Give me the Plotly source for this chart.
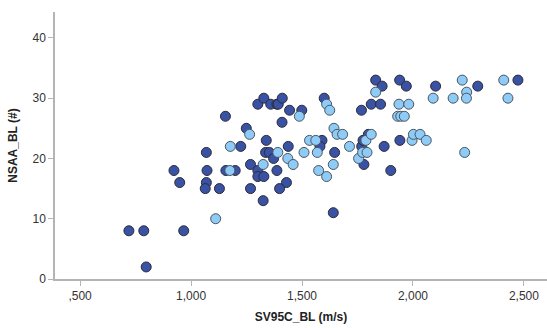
import plotly.graph_objects as go

# Dark group
dark_x = [720, 787, 967, 798, 923, 949, 1069, 1072, 1069, 1064, 1128, 1155, 1157, 1199,
          1224, 1249, 1268, 1268, 1301, 1328, 1359, 1387, 1393, 1411, 1444, 1499, 1410,
          1339, 1336, 1353, 1372, 1301, 1301, 1328, 1387, 1438, 1430, 1399, 1325, 1600,
          1590, 1581, 1647, 1641, 1768, 1769, 1780, 1775, 1779, 1799, 1812, 1832, 1861,
          1854, 1870, 1900, 1940, 1970, 1941, 2102, 2292, 2473]
dark_y = [8, 8, 8, 2, 18, 16, 21, 18, 16, 15, 15, 27, 18, 18,
          22, 25, 19, 15, 29, 30, 29, 29, 29, 30, 28, 28, 26,
          23, 21, 21, 20, 18, 17, 17, 18, 22, 16, 15, 13, 30,
          23, 22, 21, 11, 28, 22, 23, 23, 19, 24, 29, 33, 32,
          29, 22, 18, 33, 32, 23, 32, 32, 33]

# Light group
light_x = [1111, 1177, 1175, 1264, 1325, 1391, 1436, 1460, 1488, 1509, 1534, 1562, 1569,
           1575, 1611, 1625, 1611, 1641, 1644, 1658, 1683, 1714, 1755, 1773, 1793, 1788,
           1812, 1832, 1931, 1945, 1961, 1937, 1981, 1996, 2002, 2032, 2060, 2091, 2181,
           2222, 2242, 2241, 2233, 2409, 2428]
light_y = [10, 22, 18, 24, 19, 21, 20, 19, 27, 21, 23, 23, 21,
           18, 29, 28, 17, 19, 25, 24, 24, 22, 20, 21, 21, 23,
           24, 31, 27, 27, 27, 29, 29, 23, 24, 24, 23, 30, 30,
           33, 31, 30, 21, 33, 30]

x_tickvals = [500, 1000, 1500, 2000, 2500]
x_ticktext = [",500", "1,000", "1,500", "2,000", "2,500"]
y_tickvals = [0, 10, 20, 30, 40]

fig = go.Figure()
fig.add_trace(go.Scatter(
    x=dark_x, y=dark_y, mode="markers",
    marker=dict(size=10, color="#3a52a3", line=dict(color="#2b2b3a", width=1)),
    showlegend=False, hoverinfo="x+y"))
fig.add_trace(go.Scatter(
    x=light_x, y=light_y, mode="markers",
    marker=dict(size=10, color="#8ecbf7", line=dict(color="#4a5561", width=1)),
    showlegend=False, hoverinfo="x+y"))

axis_common = dict(showgrid=False, zeroline=False, showline=True,
                   linecolor="#b4b4b4", linewidth=1.5, ticks="outside",
                   tickcolor="#b4b4b4", ticklen=5, tickwidth=1,
                   tickfont=dict(family="Liberation Sans, Arial", size=12, color="#333333"))

fig.update_layout(
    width=547, height=328,
    margin=dict(l=55, r=0, t=12, b=49),
    paper_bgcolor="white", plot_bgcolor="white",
    xaxis=dict(range=[387, 2604], tickvals=x_tickvals, ticktext=x_ticktext,
               title=dict(text="<b>SV95C_BL (m/s)</b>", standoff=10,
                          font=dict(family="Liberation Sans, Arial", size=12, color="#222222")),
               **axis_common),
    yaxis=dict(range=[0, 44.3], tickvals=y_tickvals,
               title=dict(text="<b>NSAA_BL (#)</b>", standoff=12,
                          font=dict(family="Liberation Sans, Arial", size=12, color="#222222")),
               **axis_common),
)

fig.write_html("out.html", config={"displayModeBar": False},
               post_script="document.body.style.margin='0px';")
